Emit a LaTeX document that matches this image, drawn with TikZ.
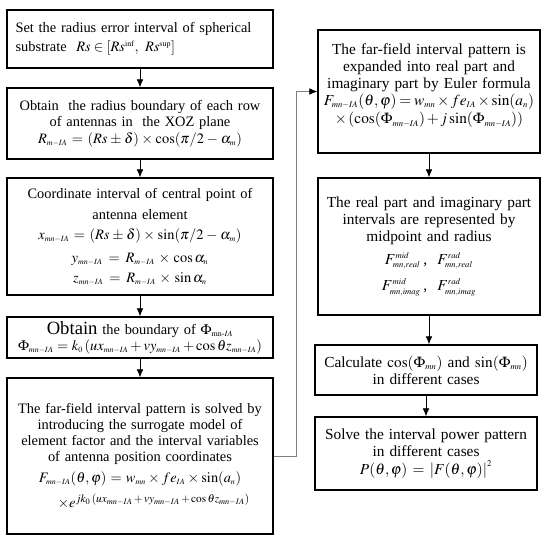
\documentclass[tikz,border=0pt]{standalone}
\usepackage{amsmath}
\usepackage{mathptmx}
\usepackage{fontspec}
\setmainfont{Liberation Serif}
\usetikzlibrary{arrows.meta}
\DeclareMathSizes{10.8}{10.8}{6}{5}
\DeclareMathSizes{11.5}{11.5}{6.5}{5}

\tikzset{
  stepbox/.style={draw, line width=1pt, align=center, inner xsep=1pt, inner ysep=2pt},
  leftbox/.style={stepbox, minimum width=199.5pt, text width=197.5pt,
    font=\fontsize{10.8}{12}\selectfont},
  rightbox/.style={stepbox, minimum width=166.5pt, text width=164.5pt,
    font=\fontsize{11.5}{12.75}\selectfont},
  flow/.style={-{Latex[length=6pt,width=5pt]}, line width=0.6pt}
}
\newcommand{\tightmath}{\thickmuskip=3mu plus 2mu\medmuskip=2mu plus 1mu}

\begin{document}
\begin{tikzpicture}[x=0.75pt,y=0.75pt,yscale=-1,xscale=1]
\useasboundingbox (0,0) rectangle (550,537);

% left column
\node[leftbox, minimum height=43.5pt, align=left] (radius) at (140,39) {\ \,Set the radius error interval of spherical\\[2pt]
\ \,substrate \ $Rs\in\left[Rs^{\inf},\ Rs^{\sup}\right]$};
\node[leftbox, minimum height=53.25pt] (boundary) at (140,123.5) {Obtain \ the radius boundary of each row\\
of antennas in \ the XOZ plane\\[1pt]
$R_{m-IA}=(Rs\pm\delta)\times\cos(\pi/2-\alpha_m)$};
\node[leftbox, minimum height=87.75pt] (coord) at (140,236.5) {Coordinate interval of central point of\\[4pt]
antenna element\\[3pt]
$x_{mn-IA}=(Rs\pm\delta)\times\sin(\pi/2-\alpha_m)$\\[5pt]
$y_{mn-IA}=R_{m-IA}\times\cos\alpha_n$\\[3pt]
$z_{mn-IA}=R_{m-IA}\times\sin\alpha_n$};
\node[leftbox, minimum height=30.75pt] (phase) at (140,337.5) {{\fontsize{14}{14}\selectfont Obtain} the boundary of $\Phi_{\mathrm{mn}\text{-}IA}$\\
$\Phi_{mn-IA}=k_0\left(ux_{mn-IA}+vy_{mn-IA}+\cos\theta z_{mn-IA}\right)$};
\node[leftbox, minimum height=117pt] (surrogate) at (140,456) {The far-field interval pattern is solved by\\
introducing the surrogate model of\\
element factor and the interval variables\\
of antenna position coordinates\\[4pt]
$\tightmath F_{mn-IA}(\theta,\varphi)=w_{mn}\times fe_{IA}\times\sin(a_n)$\hspace*{29pt}\\[5pt]
\hspace*{21pt}$\times e^{\mbox{\fontsize{8.5}{9}\selectfont$\tightmath jk_0\left(ux_{mn-IA}+vy_{mn-IA}+\cos\theta z_{mn-IA}\right)$}}$};

% right column
\node[rightbox, minimum height=92.25pt] (euler) at (429,91.5) {The far-field interval pattern is\\
expanded into real part and\\
imaginary part by Euler formula\\
$\tightmath F_{mn-IA}(\theta,\varphi)=w_{mn}\times fe_{IA}\times\sin(a_n)$\\[1pt]
$\tightmath\times\left(\cos(\Phi_{mn-IA})+j\sin(\Phi_{mn-IA})\right)$\\[-1pt]
\mbox{}};
\node[rightbox, minimum height=102.75pt] (midrad) at (429,246.5) {The real part and imaginary part\\
intervals are represented by\\
midpoint and radius\\[4pt]
$F^{mid}_{mn,real}$\,,\ \ $F^{rad}_{mn,real}$\\[6pt]
$F^{mid}_{mn,imag}$\,,\ \ $F^{rad}_{mn,imag}$};
\node[rightbox, minimum height=37.5pt] (cases) at (426,370) {Calculate $\cos(\Phi_{mn})$ and $\sin(\Phi_{mn})$\\
in different cases};
\node[rightbox, minimum height=54.75pt] (power) at (426,453.5) {Solve the interval power pattern\\
in different cases\\[1pt]
$P(\theta,\varphi)=\left|F(\theta,\varphi)\right|^2$};

% connectors
\draw[flow] (radius) -- (boundary);
\draw[flow] (boundary) -- (coord);
\draw[flow] (coord) -- (phase);
\draw[flow] (phase) -- (surrogate);
\draw[flow] (euler.south) -- (euler.south |- midrad.north);
\draw[flow] (midrad.south) -- (midrad.south |- cases.north);
\draw[flow] (cases.south) -- (cases.south |- power.north);
\draw[-{Latex[length=6pt,width=5pt,color=black]}, gray, line width=0.6pt] (surrogate.east) -- ++(23,0) |- (euler.west);

\end{tikzpicture}
\end{document}
